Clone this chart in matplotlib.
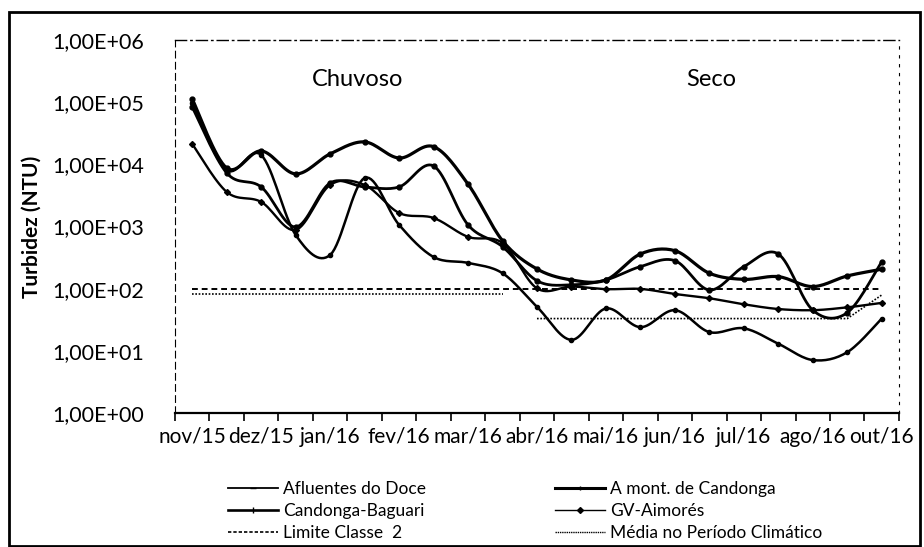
import numpy as np
import matplotlib.pyplot as plt
from matplotlib.ticker import FixedLocator, FuncFormatter
from matplotlib.lines import Line2D
from matplotlib.patches import Rectangle

plt.rcParams['font.family'] = ['Lato', 'DejaVu Sans']

# rotulos do eixo x (um a cada dois pontos)
meses = ['nov/15', 'dez/15', 'jan/16', 'fev/16', 'mar/16', 'abr/16',
         'mai/16', 'jun/16', 'jul/16', 'ago/16', 'out/16']

# turbidez (NTU), 21 campanhas
afluentes = [95000, 8100, 14100, 730, 348, 6030, 1060, 323, 259, 177, 51,
             15, 48, 24, 45, 20, 23, 13, 7.1, 9.5, 33]
montante = [112000, 8700, 16400, 7000, 14700, 22900, 12600, 19200, 4800, 590, 207,
            138, 138, 361, 408, 177, 141, 156, 108, 160, 205]
baguari = [83000, 7250, 4320, 980, 5010, 4320, 4320, 9400, 1060, 473, 134,
           115, 138, 226, 282, 95, 226, 361, 45, 41, 272]
aimores = [21200, 3590, 2480, 880, 4650, 4650, 1650, 1370, 680, 540, 101,
           108, 98, 99, 82, 70, 56, 47, 45, 50, 59]
limite = [100, 100, 100, 100, 100, 100, 100, 100, 100, 100, 100,
          100, 100, 100, 100, 100, 100, 100, 100, 100, 100]
media_chuvoso = [82, 82, 82, 82, 82, 82, 82, 82, 82, 82]
media_seco = [33, 33, 33, 33, 33, 33, 33, 33, 33, 33, 79]


def suaviza(y, passos=16):
    # linha suavizada tipo Excel (Catmull-Rom em escala log)
    x = np.arange(len(y), dtype=float)
    ly = np.log10(y)
    xs, ys = [], []
    t = np.linspace(0, 1, passos, endpoint=False)
    for i in range(len(y) - 1):
        i0 = max(i - 1, 0)
        i3 = min(i + 2, len(y) - 1)
        for arr, out in ((x, xs), (ly, ys)):
            p0, p1, p2, p3 = arr[i0], arr[i], arr[i + 1], arr[i3]
            out.extend(0.5 * (2 * p1 + (-p0 + p2) * t
                              + (2 * p0 - 5 * p1 + 4 * p2 - p3) * t ** 2
                              + (-p0 + 3 * p1 - 3 * p2 + p3) * t ** 3))
    xs.append(x[-1])
    ys.append(ly[-1])
    return np.array(xs), 10 ** np.array(ys)


fig = plt.figure(figsize=(9.24, 5.47), dpi=100)
ax = fig.add_axes([0.1894, 0.245, 0.7835, 0.682])

series = [(afluentes, 1.8, 'o', 3.0),
          (montante, 2.3, 'o', 3.5),
          (baguari, 2.0, 'o', 3.5),
          (aimores, 1.7, 'D', 3.0)]
for vals, lw, mk, ms in series:
    xs, ys = suaviza(vals)
    ax.plot(xs, ys, color='black', lw=lw, solid_capstyle='round')
    ax.plot(np.arange(len(vals)), vals, ls='none', marker=mk, ms=ms, color='black')

ax.plot(np.arange(len(limite)), limite, color='black', lw=1.4, ls=(0, (3, 2)))
ax.plot(np.arange(len(media_chuvoso)), media_chuvoso, color='black', lw=1.2, ls=(0, (1, 1)))
ax.plot(np.arange(len(media_seco)) + len(media_chuvoso), media_seco,
        color='black', lw=1.2, ls=(0, (1, 1)))

ax.set_yscale('log')
ax.set_ylim(1, 1e6)
ax.set_xlim(-0.5, 20.5)
ax.yaxis.set_major_locator(FixedLocator([1, 10, 100, 1e3, 1e4, 1e5, 1e6]))
ax.yaxis.set_minor_locator(FixedLocator([]))
ax.yaxis.set_major_formatter(FuncFormatter(lambda v, p: '1,00E+%02d' % round(np.log10(v))))
ax.tick_params(axis='y', length=0, labelsize=15.5, pad=22)

ax.xaxis.set_major_locator(FixedLocator(np.arange(-0.5, 21, 1.0)))
ax.xaxis.set_major_formatter(FuncFormatter(lambda v, p: ''))
ax.xaxis.set_minor_locator(FixedLocator(np.arange(0, 21, 2)))
ax.set_xticklabels(meses, minor=True)
ax.tick_params(axis='x', which='major', length=6, width=1.2, direction='out')
ax.tick_params(axis='x', which='minor', length=0, labelsize=15, pad=10)

ax.spines['bottom'].set_linewidth(1.6)
ax.spines['top'].set_linestyle((0, (8, 3, 1, 3)))
ax.spines['top'].set_linewidth(1.0)
ax.spines['left'].set_linestyle((0, (6, 4)))
ax.spines['left'].set_linewidth(0.8)
ax.spines['right'].set_linestyle((0, (2, 6)))
ax.spines['right'].set_linewidth(0.8)

ax.set_ylabel('Turbidez (NTU)', fontsize=15, fontweight='bold', labelpad=8)

ax.text(4.8, 2.35e5, 'Chuvoso', fontsize=17, ha='center', va='center')
ax.text(15.05, 2.35e5, 'Seco', fontsize=17, ha='center', va='center')

# legenda em duas colunas
def h(lw, ls='-', mk=None, ms=3):
    return Line2D([], [], color='black', lw=lw, ls=ls, marker=mk, ms=ms)

col1 = [(h(1.3, '-', '_', 4), 'Afluentes do Doce'),
        (h(1.9, '-', '|', 4), 'Candonga-Baguari'),
        (h(1.2, (0, (2, 1.2))), 'Limite Classe  2')]
col2 = [(h(2.2, '-', '|', 3), 'A mont. de Candonga'),
        (h(1.0, '-', 'D', 3), 'GV-Aimorés'),
        (h(1.0, (0, (1, 0.6))), 'Média no Período Climático')]
for itens, x0 in ((col1, 228 / 924), (col2, 555 / 924)):
    fig.legend([a for a, b in itens], [b for a, b in itens], loc='upper left',
               bbox_to_anchor=(x0, 1 - 481 / 547), frameon=False, fontsize=12.5,
               handlelength=2.9, handletextpad=0.28, labelspacing=0.35,
               borderpad=0, borderaxespad=0)

fig.patches.append(Rectangle((9 / 924, 0.002), 911 / 924, 1 - 12 / 547 - 0.002,
                             transform=fig.transFigure, fill=False,
                             edgecolor='black', lw=2))

fig.savefig('out.png', dpi=100)
